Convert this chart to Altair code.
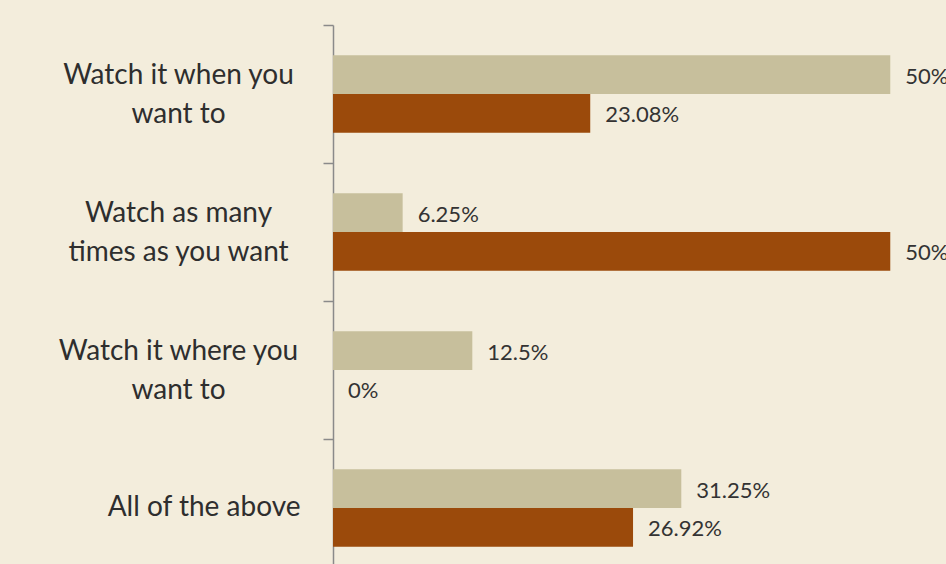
import altair as alt
import pandas as pd

categories = [
    "Watch it when you\nwant to",
    "Watch as many\ntimes as you want",
    "Watch it where you\nwant to",
    "All of the above",
]
series_names = ["Group A", "Group B"]
group_a = [50, 6.25, 12.5, 31.25]
group_b = [23.08, 50, 0, 26.92]
colors = ["#C7BF9C", "#9B4A0B"]

rows = []
for c, a, b in zip(categories, group_a, group_b):
    rows.append({"category": c, "series": series_names[0], "value": a})
    rows.append({"category": c, "series": series_names[1], "value": b})
df = pd.DataFrame(rows)

FONT = "Lato"
single = "datum.value == 'All of the above'"

y_enc = alt.Y(
    "category:N",
    sort=categories,
    scale=alt.Scale(range=[0, 552], paddingInner=0.44, paddingOuter=0.22),
    axis=alt.Axis(
        title=None,
        tickOffset=-69,
        labelOffset={"condition": {"test": single, "value": 68}, "value": 50},
        tickSize=10,
        tickColor="#8A8A8A",
        tickWidth=1.5,
        domainColor="#8A8A8A",
        domainWidth=1.5,
        labelFont=FONT,
        labelFontSize=28,
        labelColor="#2E2E2E",
        labelLineHeight=39,
        labelLimit=400,
        labelExpr="split(datum.label, '\\n')",
        labelAlign={"condition": {"test": single, "value": "right"}, "value": "center"},
        labelPadding={"condition": {"test": single, "value": 23}, "value": 145},
    ),
)
yoff = alt.YOffset("series:N", sort=series_names, scale=alt.Scale(paddingInner=0, paddingOuter=0))
x_enc = alt.X("value:Q", scale=alt.Scale(domain=[0, 55], nice=False, zero=True), axis=None)

base = alt.Chart(df).encode(y=y_enc, yOffset=yoff, x=x_enc)

bars = base.mark_bar().encode(
    color=alt.Color("series:N", sort=series_names, scale=alt.Scale(domain=series_names, range=colors), legend=None)
)

labels = base.mark_text(align="left", baseline="middle", dx=15, dy=2, font=FONT, fontSize=22, color="#333333").transform_calculate(
    label="toString(datum.value) + '%'"
).encode(text="label:N")

chart = (
    alt.layer(bars, labels)
    .properties(
        width=613,
        height=539,
        background="#F3EDDC",
        padding={"left": 333, "top": 25, "right": 0, "bottom": 0},
        autosize=alt.AutoSizeParams(type="none"),
    )
    .configure_view(stroke=None)
)

chart.save("out.html", embed_options={"renderer": "svg", "actions": False})
